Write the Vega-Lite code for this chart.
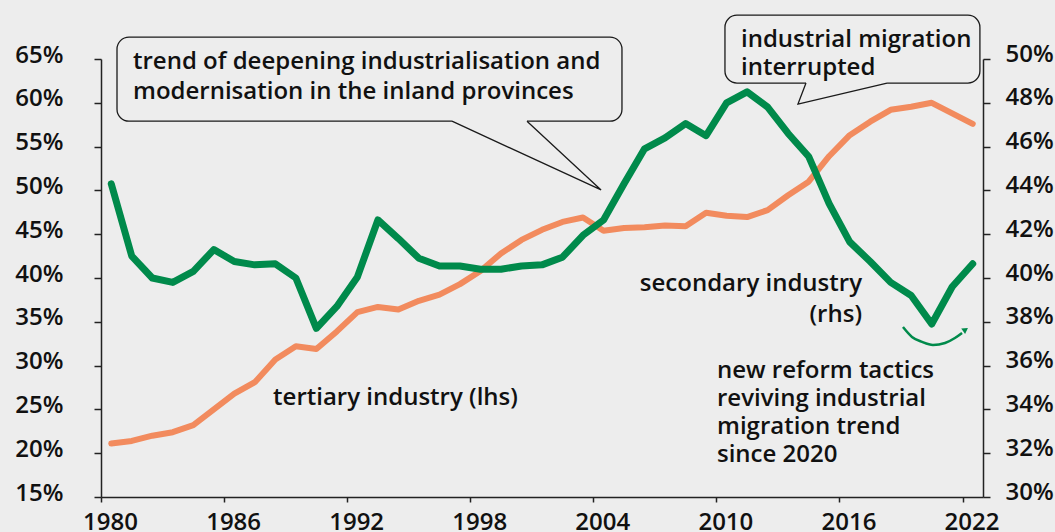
{
  "$schema": "https://vega.github.io/schema/vega-lite/v6.json",
  "width": 882,
  "height": 438,
  "autosize": "none",
  "padding": {"left": 101, "top": 59, "right": 72, "bottom": 35},
  "background": "#ededed",
  "config": {
    "view": {"stroke": null},
    "font": "Open Sans",
    "axis": {
      "labelFont": "Open Sans",
      "labelFontSize": 24,
      "labelFontWeight": 600,
      "labelColor": "#111111",
      "domainColor": "#222222",
      "domainWidth": 1.5,
      "tickColor": "#222222",
      "tickWidth": 1.5,
      "grid": false,
      "title": null
    }
  },
  "datasets": {
    "main": [
      {"date": "1980-07-02", "tertiary": 21.1, "secondary": 44.3},
      {"date": "1981-07-02", "tertiary": 21.4, "secondary": 41.0},
      {"date": "1982-07-02", "tertiary": 22.0, "secondary": 40.0},
      {"date": "1983-07-02", "tertiary": 22.4, "secondary": 39.8},
      {"date": "1984-07-02", "tertiary": 23.2, "secondary": 40.3},
      {"date": "1985-07-02", "tertiary": 25.0, "secondary": 41.3},
      {"date": "1986-07-02", "tertiary": 26.8, "secondary": 40.75},
      {"date": "1987-07-02", "tertiary": 28.1, "secondary": 40.6},
      {"date": "1988-07-02", "tertiary": 30.7, "secondary": 40.65},
      {"date": "1989-07-02", "tertiary": 32.2, "secondary": 40.0},
      {"date": "1990-07-02", "tertiary": 31.9, "secondary": 37.7},
      {"date": "1991-07-02", "tertiary": 33.9, "secondary": 38.7},
      {"date": "1992-07-02", "tertiary": 36.1, "secondary": 40.05},
      {"date": "1993-07-02", "tertiary": 36.7, "secondary": 42.65},
      {"date": "1994-07-02", "tertiary": 36.4, "secondary": 41.8},
      {"date": "1995-07-02", "tertiary": 37.4, "secondary": 40.9},
      {"date": "1996-07-02", "tertiary": 38.1, "secondary": 40.55},
      {"date": "1997-07-02", "tertiary": 39.3, "secondary": 40.55},
      {"date": "1998-07-02", "tertiary": 40.8, "secondary": 40.4},
      {"date": "1999-07-02", "tertiary": 42.8, "secondary": 40.4},
      {"date": "2000-07-02", "tertiary": 44.35, "secondary": 40.55},
      {"date": "2001-07-02", "tertiary": 45.5, "secondary": 40.6},
      {"date": "2002-07-02", "tertiary": 46.4, "secondary": 40.95},
      {"date": "2003-07-02", "tertiary": 46.9, "secondary": 41.95},
      {"date": "2004-07-02", "tertiary": 45.4, "secondary": 42.65},
      {"date": "2005-07-02", "tertiary": 45.7, "secondary": 44.3},
      {"date": "2006-07-02", "tertiary": 45.8, "secondary": 45.9},
      {"date": "2007-07-02", "tertiary": 46.0, "secondary": 46.4},
      {"date": "2008-07-02", "tertiary": 45.9, "secondary": 47.05},
      {"date": "2009-07-02", "tertiary": 47.45, "secondary": 46.5},
      {"date": "2010-07-02", "tertiary": 47.1, "secondary": 48.0},
      {"date": "2011-07-02", "tertiary": 46.95, "secondary": 48.5},
      {"date": "2012-07-02", "tertiary": 47.75, "secondary": 47.8},
      {"date": "2013-07-02", "tertiary": 49.45, "secondary": 46.6},
      {"date": "2014-07-02", "tertiary": 51.0, "secondary": 45.55},
      {"date": "2015-07-02", "tertiary": 53.9, "secondary": 43.4},
      {"date": "2016-07-02", "tertiary": 56.3, "secondary": 41.65},
      {"date": "2017-07-02", "tertiary": 57.85, "secondary": 40.75},
      {"date": "2018-07-02", "tertiary": 59.2, "secondary": 39.8},
      {"date": "2019-07-02", "tertiary": 59.55, "secondary": 39.2},
      {"date": "2020-07-02", "tertiary": 60.0, "secondary": 37.9},
      {"date": "2021-07-02", "tertiary": 58.8, "secondary": 39.6},
      {"date": "2022-07-02", "tertiary": 57.6, "secondary": 40.65}
    ],
    "boxes": [
      {"date": "1980-10-12", "date2": "2005-05-26", "y": 67.5, "y2": 57.9},
      {"date": "2010-06-03", "date2": "2022-11-07", "y": 70.0, "y2": 62.25}
    ],
    "gaps": [
      {"id": "a", "date": "1997-02-10", "y": 57.9},
      {"id": "a", "date": "2000-10-08", "y": 57.9},
      {"id": "b", "date": "2014-05-16", "y": 62.25},
      {"id": "b", "date": "2018-04-28", "y": 62.25}
    ],
    "pointers": [
      {"id": "a", "o": 1, "date": "1997-02-10", "y": 57.9},
      {"id": "a", "o": 2, "date": "2004-05-19", "y": 50.05},
      {"id": "a", "o": 3, "date": "2000-10-08", "y": 57.9},
      {"id": "b", "o": 1, "date": "2014-05-16", "y": 62.25},
      {"id": "b", "o": 2, "date": "2013-12-24", "y": 59.86},
      {"id": "b", "o": 3, "date": "2018-04-28", "y": 62.25}
    ],
    "callout1": [
      {"date": "1981-07-24", "y": 63.86, "text": ["trend of deepening industrialisation and", "modernisation in the inland provinces"]}
    ],
    "leftTexts": [
      {"date": "2011-03-15", "y": 66.37, "text": ["industrial migration", "interrupted"]},
      {"date": "2010-01-12", "y": 28.58, "text": ["new reform tactics", "reviving industrial", "migration trend", "since 2020"]},
      {"date": "1988-05-22", "y": 25.5, "text": ["tertiary industry (lhs)"]}
    ],
    "rightTexts": [
      {"date": "2017-02-06", "y": 38.52, "text": ["secondary industry", "(rhs)"]}
    ],
    "arc": [
      {"date": "2019-02-06", "y": 37.76},
      {"date": "2019-07-16", "y": 37.31},
      {"date": "2020-01-12", "y": 37.08},
      {"date": "2020-07-24", "y": 36.94},
      {"date": "2021-02-24", "y": 37.03},
      {"date": "2021-08-19", "y": 37.26},
      {"date": "2021-12-24", "y": 37.49}
    ],
    "arrowhead": [
      {"date": "2022-02-10", "y": 37.62}
    ]
  },
  "encoding": {
    "x": {
      "field": "date",
      "type": "temporal",
      "scale": {"type": "utc", "domain": [{"year": 1980, "utc": true}, {"year": 2023, "utc": true}]},
      "axis": {
        "values": [
          {"year": 1980, "utc": true}, {"year": 1986, "utc": true}, {"year": 1992, "utc": true},
          {"year": 1998, "utc": true}, {"year": 2004, "utc": true}, {"year": 2010, "utc": true},
          {"year": 2016, "utc": true}, {"year": 2022, "utc": true}
        ],
        "labelExpr": "utcFormat(datum.value, '%Y')",
        "tickSize": 5,
        "labelPadding": 8,
        "labelOffset": 9,
        "labelFlush": false,
        "labelOverlap": false
      }
    }
  },
  "layer": [
    {
      "data": {"name": "main"},
      "mark": {"type": "line", "color": "#f28b5e", "strokeWidth": 6, "strokeCap": "round", "strokeJoin": "round"},
      "encoding": {
        "y": {
          "field": "tertiary",
          "type": "quantitative",
          "scale": {"domain": [15, 65], "zero": false, "nice": false},
          "axis": {
            "orient": "left",
            "values": [15, 20, 25, 30, 35, 40, 45, 50, 55, 60, 65],
            "labelExpr": "datum.value + '%'",
            "tickSize": 7,
            "labelPadding": 31,
            "labelOffset": -4,
            "labelFlush": false,
            "labelOverlap": false
          }
        }
      }
    },
    {
      "data": {"name": "main"},
      "mark": {"type": "line", "color": "#008a4b", "strokeWidth": 7, "strokeCap": "round", "strokeJoin": "round"},
      "encoding": {
        "y": {
          "field": "secondary",
          "type": "quantitative",
          "scale": {"domain": [30, 50], "zero": false, "nice": false},
          "axis": {
            "orient": "right",
            "values": [30, 32, 34, 36, 38, 40, 42, 44, 46, 48, 50],
            "labelExpr": "datum.value + '%'",
            "tickSize": 7,
            "labelPadding": 15,
            "labelOffset": -5,
            "labelFlush": false,
            "labelOverlap": false
          }
        }
      }
    },
    {
      "data": {"name": "boxes"},
      "mark": {"type": "rect", "cornerRadius": 12, "fill": "#ededed", "stroke": "#1a1a1a", "strokeWidth": 1.3},
      "encoding": {
        "x2": {"field": "date2"},
        "y": {"field": "y", "type": "quantitative", "scale": {"domain": [15, 65], "zero": false, "nice": false}, "axis": null},
        "y2": {"field": "y2"}
      }
    },
    {
      "data": {"name": "gaps"},
      "mark": {"type": "line", "color": "#ededed", "strokeWidth": 3},
      "encoding": {
        "detail": {"field": "id"},
        "y": {"field": "y", "type": "quantitative", "scale": {"domain": [15, 65], "zero": false, "nice": false}, "axis": null}
      }
    },
    {
      "data": {"name": "pointers"},
      "mark": {"type": "line", "color": "#1a1a1a", "strokeWidth": 1.3},
      "encoding": {
        "detail": {"field": "id"},
        "order": {"field": "o"},
        "y": {"field": "y", "type": "quantitative", "scale": {"domain": [15, 65], "zero": false, "nice": false}, "axis": null}
      }
    },
    {
      "data": {"name": "callout1"},
      "mark": {"type": "text", "align": "left", "baseline": "alphabetic", "fontSize": 24, "fontWeight": 600, "lineHeight": 30, "color": "#111111", "font": "Open Sans"},
      "encoding": {
        "text": {"field": "text"},
        "y": {"field": "y", "type": "quantitative", "scale": {"domain": [15, 65], "zero": false, "nice": false}, "axis": null}
      }
    },
    {
      "data": {"name": "leftTexts"},
      "mark": {"type": "text", "align": "left", "baseline": "alphabetic", "fontSize": 24, "fontWeight": 600, "lineHeight": 28, "color": "#111111", "font": "Open Sans"},
      "encoding": {
        "text": {"field": "text"},
        "y": {"field": "y", "type": "quantitative", "scale": {"domain": [15, 65], "zero": false, "nice": false}, "axis": null}
      }
    },
    {
      "data": {"name": "rightTexts"},
      "mark": {"type": "text", "align": "right", "baseline": "alphabetic", "fontSize": 24, "fontWeight": 600, "lineHeight": 31, "color": "#111111", "font": "Open Sans"},
      "encoding": {
        "text": {"field": "text"},
        "y": {"field": "y", "type": "quantitative", "scale": {"domain": [15, 65], "zero": false, "nice": false}, "axis": null}
      }
    },
    {
      "data": {"name": "arc"},
      "mark": {"type": "line", "color": "#008a4b", "strokeWidth": 2.5, "interpolate": "monotone"},
      "encoding": {
        "y": {"field": "y", "type": "quantitative", "scale": {"domain": [30, 50], "zero": false, "nice": false}, "axis": null}
      }
    },
    {
      "data": {"name": "arrowhead"},
      "mark": {"type": "point", "shape": "triangle", "filled": true, "color": "#008a4b", "size": 45, "angle": 55, "opacity": 1},
      "encoding": {
        "y": {"field": "y", "type": "quantitative", "scale": {"domain": [30, 50], "zero": false, "nice": false}, "axis": null}
      }
    }
  ],
  "resolve": {"scale": {"y": "independent"}}
}
